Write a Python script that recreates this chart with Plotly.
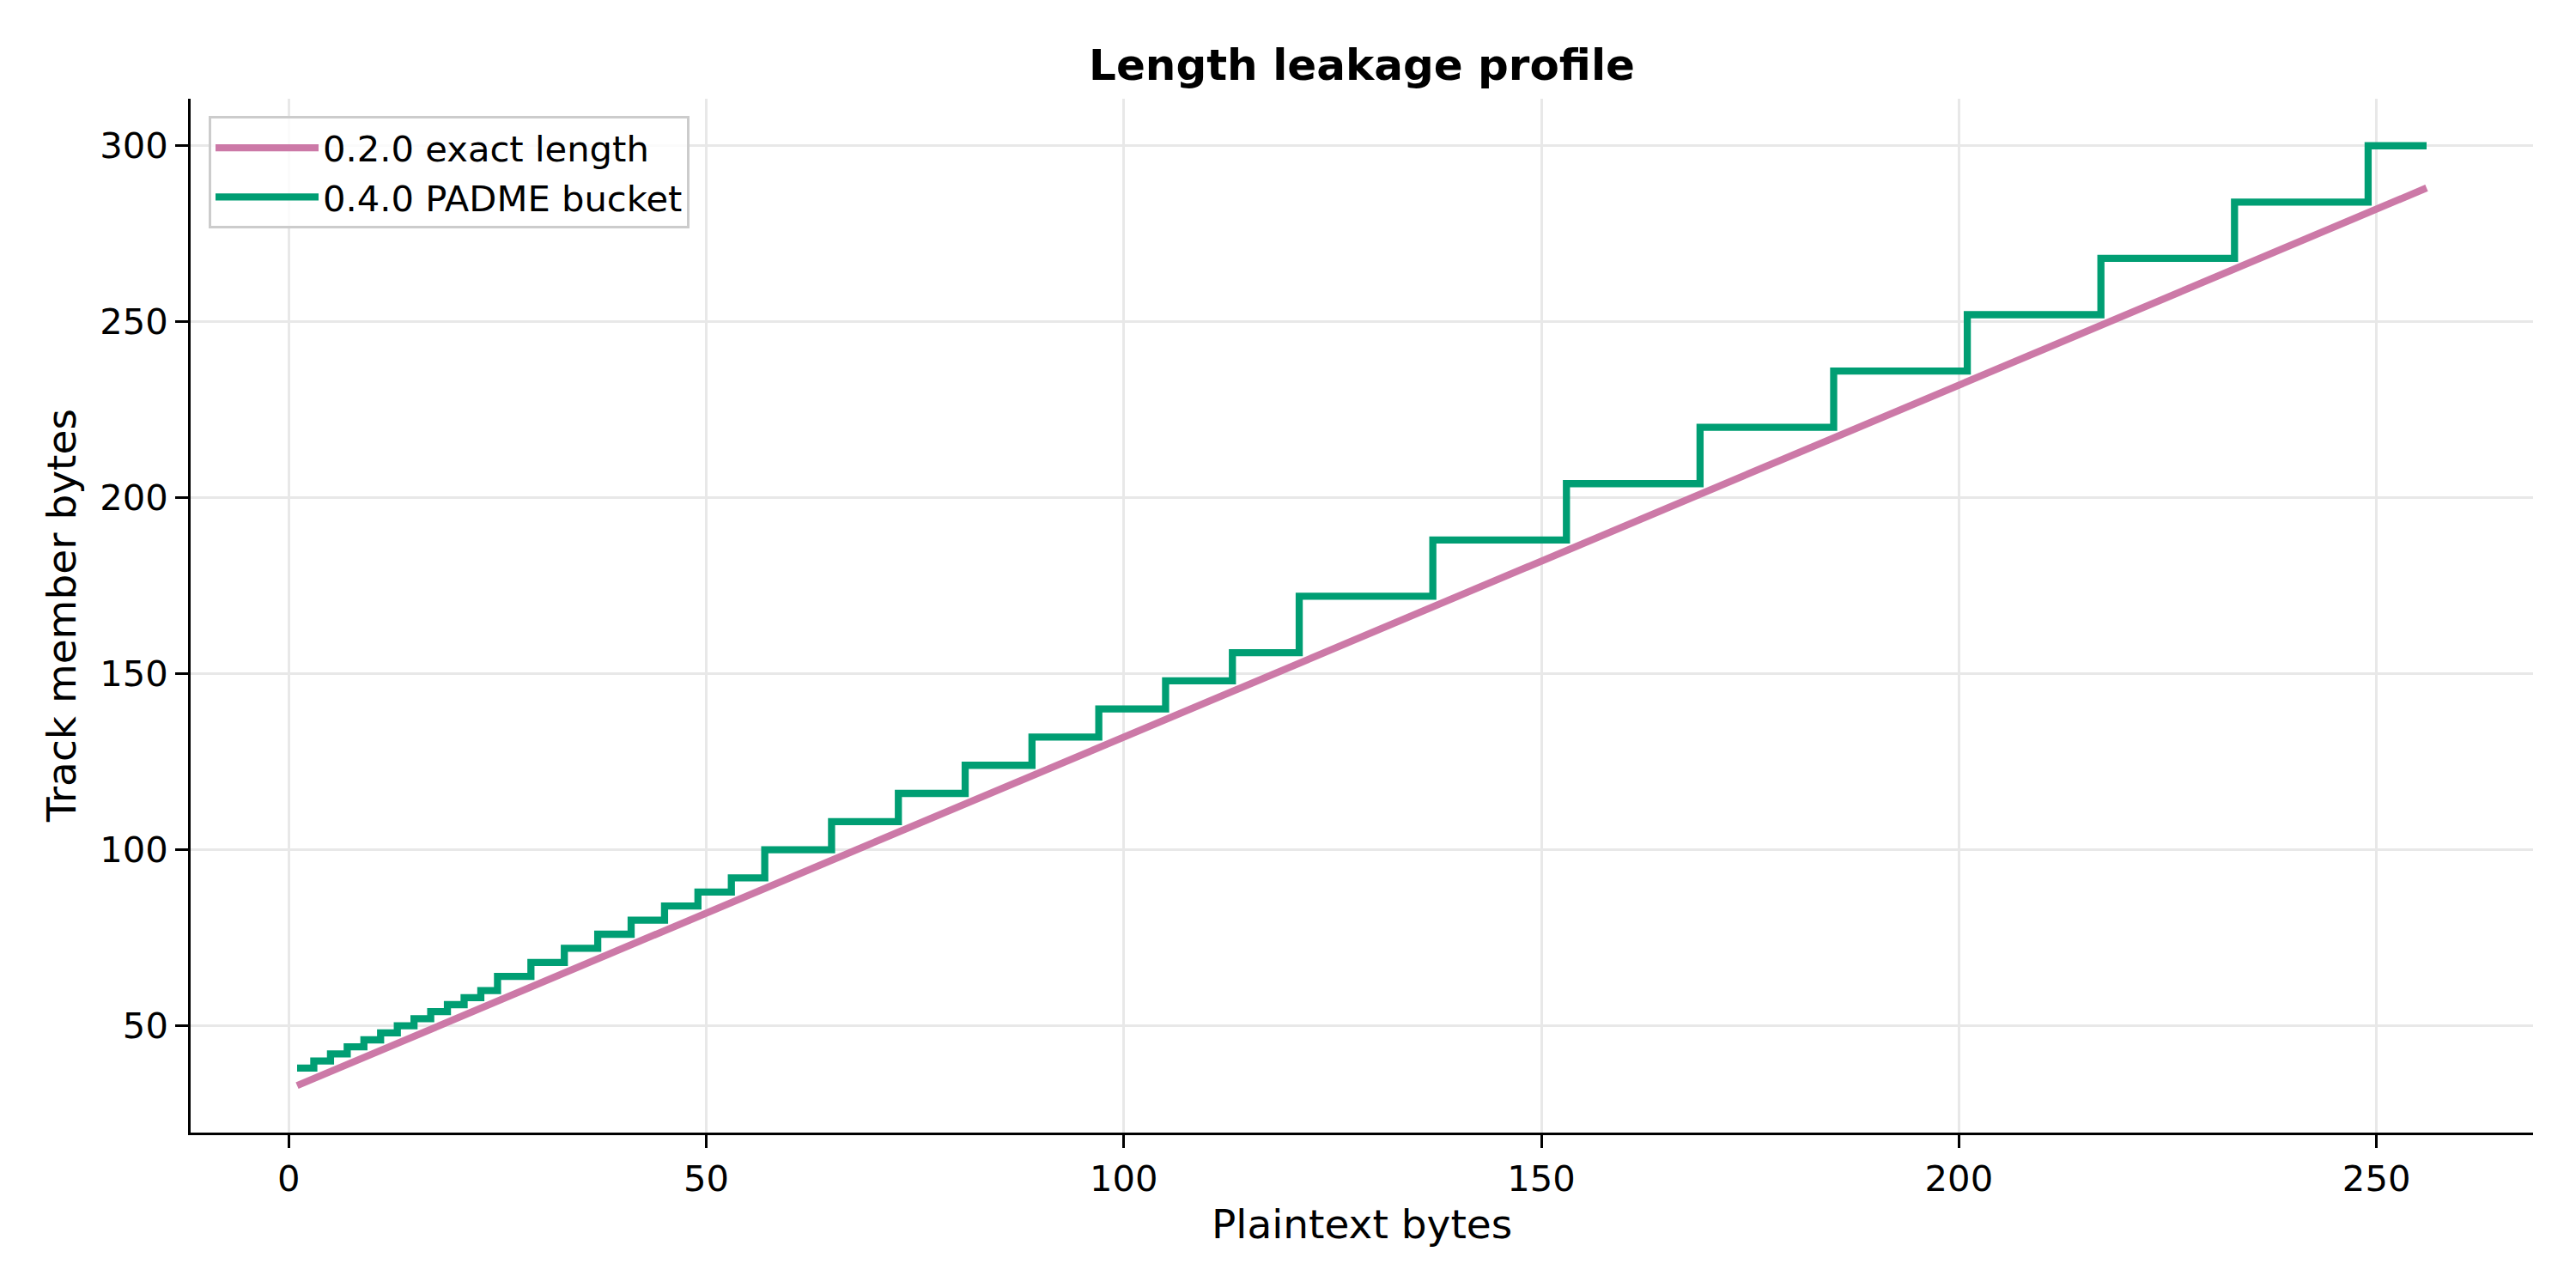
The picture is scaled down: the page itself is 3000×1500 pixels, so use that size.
import plotly.graph_objects as go

# Exact-length series (0.2.0): straight line between read endpoints
exact_x = [1, 256]
exact_y = [33, 288]

# PADME bucket series (0.4.0): step breakpoints (value holds until next x)
padme_x = [1, 3, 5, 7, 9, 11, 13, 15, 17, 19, 21, 23, 25, 29, 33, 37, 41, 45,
           49, 53, 57, 65, 73, 81, 89, 97, 105, 113, 121, 137, 153, 169, 185,
           201, 217, 233, 249, 256]
padme_y = [38, 40, 42, 44, 46, 48, 50, 52, 54, 56, 58, 60, 64, 68, 72, 76, 80,
           84, 88, 92, 100, 108, 116, 124, 132, 140, 148, 156, 172, 188, 204,
           220, 236, 252, 268, 284, 300, 300]

series_names = ["0.2.0 exact length", "0.4.0 PADME bucket"]
x_ticks = [0, 50, 100, 150, 200, 250]
y_ticks = [50, 100, 150, 200, 250, 300]

FONT = "DejaVu Sans"
PINK = "#CC79A7"
GREEN = "#009E73"

fig = go.Figure()
fig.add_trace(go.Scatter(x=exact_x, y=exact_y, mode="lines", name=series_names[0],
                         line=dict(color=PINK, width=8.3)))
fig.add_trace(go.Scatter(x=padme_x, y=padme_y, mode="lines", name=series_names[1],
                         line=dict(color=GREEN, width=8.3, shape="hv")))

axis_common = dict(
    showline=True, linecolor="black", linewidth=3.3, mirror=False,
    ticks="outside", ticklen=14.6, tickwidth=3.3, tickcolor="black",
    showgrid=True, gridcolor="#e8e8e8", gridwidth=3, zeroline=False,
    tickfont=dict(family=FONT, size=41.7, color="black"),
)

fig.update_layout(
    width=3000, height=1500,
    margin=dict(l=222, r=50, t=115, b=181),
    paper_bgcolor="white", plot_bgcolor="white",
    font=dict(family=FONT, color="black"),
    title=dict(text="<b>Length leakage profile</b>", x=0.5, xref="paper",
               y=1 - 75 / 1500, yanchor="middle", xanchor="center",
               font=dict(family=FONT, size=50, color="black")),
    xaxis=dict(range=[-11.75, 268.75], tickvals=x_ticks, **axis_common),
    yaxis=dict(range=[19.65, 313.35], tickvals=y_ticks, **axis_common),
    legend=dict(x=(243 - 222) / 2728, y=0.983, xanchor="left", yanchor="top",
                bgcolor="rgba(255,255,255,0.8)", bordercolor="#cccccc",
                borderwidth=3, font=dict(family=FONT, size=41.7, color="black"),
                itemwidth=120, tracegroupgap=0),
    showlegend=True,
    annotations=[
        dict(text="Plaintext bytes", xref="paper", yref="paper", x=0.5,
             y=(1319 - 1425) / 1204, xanchor="center", yanchor="middle",
             showarrow=False, font=dict(family=FONT, size=47, color="black")),
        dict(text="Track member bytes", xref="paper", yref="paper",
             x=(71 - 222) / 2728, y=0.5, xanchor="center", yanchor="middle",
             textangle=-90, showarrow=False,
             font=dict(family=FONT, size=47, color="black")),
    ],
)

fig.write_html("out.html")
